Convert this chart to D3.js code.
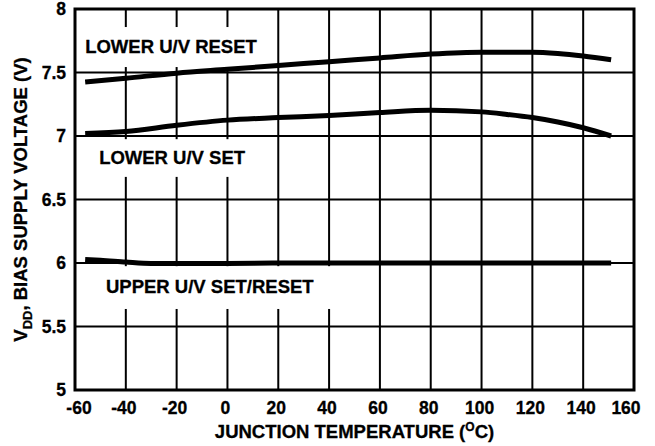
<!DOCTYPE html>
<html><head><meta charset="utf-8">
<script src="https://cdn.jsdelivr.net/npm/d3@7"></script>
<style>
html,body{margin:0;padding:0;background:#fff;}
svg text{font-family:"Liberation Sans",Arial,Helvetica,sans-serif;font-weight:bold;fill:#000;stroke:#000;stroke-width:0.3px;}
</style></head>
<body>
<script>
// ---- data ----
const xTicks = [-60,-40,-20,0,20,40,60,80,100,120,140,160];
const yTicks = [5,5.5,6,6.5,7,7.5,8];
const yTickLabels = ["5","5.5","6","6.5","7","7.5","8"];

const resetTemps = [-56,-40,-20,0,20,40,60,80,100,120,130,140,151];
const resetVals  = [7.425,7.455,7.495,7.525,7.555,7.585,7.615,7.645,7.66,7.66,7.65,7.63,7.60];

const setTemps = [-56,-40,-20,0,20,40,60,80,100,110,120,130,140,151];
const setVals  = [7.02,7.035,7.085,7.125,7.145,7.162,7.185,7.203,7.19,7.17,7.145,7.11,7.065,7.0];

const upperTemps = [-56,-50,-40,-30,-20,0,20,40,60,80,100,120,140,151];
const upperVals  = [6.028,6.022,6.008,5.997,5.996,5.997,6.0,6.0,6.0,6.0,6.0,6.0,6.0,6.0];

const curveLabels = ["LOWER U/V RESET","LOWER U/V SET","UPPER U/V SET/RESET"];
// label boxes in data coords: [t0,t1,vTop,vBottom,tText,vBaseline]
const labelBoxes = [
  [-60,14,7.858,7.543,-56,7.657],
  [-60,10,6.975,6.678,-50.5,6.777],
  [-60,50,5.975,5.638,-47.8,5.763]
];

// ---- chart ----
const W=655,H=446;
const m={l:75,r:21,t:9,b:56};
const svg=d3.select("body").append("svg").attr("width",W).attr("height",H);
const x=d3.scaleLinear().domain([-60,160]).range([m.l,W-m.r]);
const y=d3.scaleLinear().domain([5,8]).range([H-m.b,m.t]);

// grid
svg.append("g").selectAll("line").data(xTicks.slice(1,-1)).join("line")
  .attr("x1",d=>x(d)).attr("x2",d=>x(d)).attr("y1",y(5)).attr("y2",y(8))
  .attr("stroke","#000").attr("stroke-width",2);
svg.append("g").selectAll("line").data(yTicks.slice(1,-1)).join("line")
  .attr("x1",x(-60)).attr("x2",x(160)).attr("y1",d=>y(d)).attr("y2",d=>y(d))
  .attr("stroke","#000").attr("stroke-width",2);

// white label boxes
svg.append("g").selectAll("rect").data(labelBoxes).join("rect")
  .attr("x",d=>x(d[0])+2).attr("width",d=>x(d[1])-x(d[0])-2)
  .attr("y",d=>y(d[2])).attr("height",d=>y(d[3])-y(d[2]))
  .attr("fill","#fff");

// frame
svg.append("rect").attr("x",x(-60)).attr("y",y(8)).attr("width",x(160)-x(-60)).attr("height",y(5)-y(8))
  .attr("fill","none").attr("stroke","#000").attr("stroke-width",3);

// curves
const line=d3.line().x(d=>x(d[0])).y(d=>y(d[1])).curve(d3.curveMonotoneX);
[[resetTemps,resetVals],[setTemps,setVals],[upperTemps,upperVals]].forEach(([t,v])=>{
  svg.append("path").datum(t.map((d,i)=>[d,v[i]])).attr("d",line)
    .attr("fill","none").attr("stroke","#000").attr("stroke-width",5);
});

// curve labels
svg.append("g").selectAll("text").data(labelBoxes).join("text")
  .attr("x",d=>x(d[4])).attr("y",d=>y(d[5])).attr("font-size",18.5)
  .text((d,i)=>curveLabels[i]);

// x tick labels
svg.append("g").selectAll("text").data(xTicks).join("text")
  .attr("x",d=>x(d)).attr("y",414).attr("text-anchor","middle").attr("font-size",17.5)
  .attr("dx",(d,i)=>i===0?4:(i===xTicks.length-1?-8:-2))
  .text(d=>d);
// y tick labels
svg.append("g").selectAll("text").data(yTicks).join("text")
  .attr("x",66).attr("y",d=>y(d)+6).attr("text-anchor","end").attr("font-size",17.5)
  .text((d,i)=>yTickLabels[i]);

// x title
const xt=svg.append("text").attr("x",(x(-60)+x(160))/2).attr("y",438).attr("text-anchor","middle").attr("font-size",18.5);
xt.append("tspan").text("JUNCTION TEMPERATURE (");
xt.append("tspan").attr("font-size",12).attr("dy",-7).text("O");
xt.append("tspan").attr("dy",7).text("C)");

// y title
const yt=svg.append("text").attr("transform",`translate(27,${(y(5)+y(8))/2}) rotate(-90)`)
  .attr("text-anchor","middle").attr("font-size",18.5);
yt.append("tspan").text("V");
yt.append("tspan").attr("font-size",13).attr("dy",5).text("DD");
yt.append("tspan").attr("dy",-5).text(", BIAS SUPPLY VOLTAGE (V)");
</script>
</body></html>
